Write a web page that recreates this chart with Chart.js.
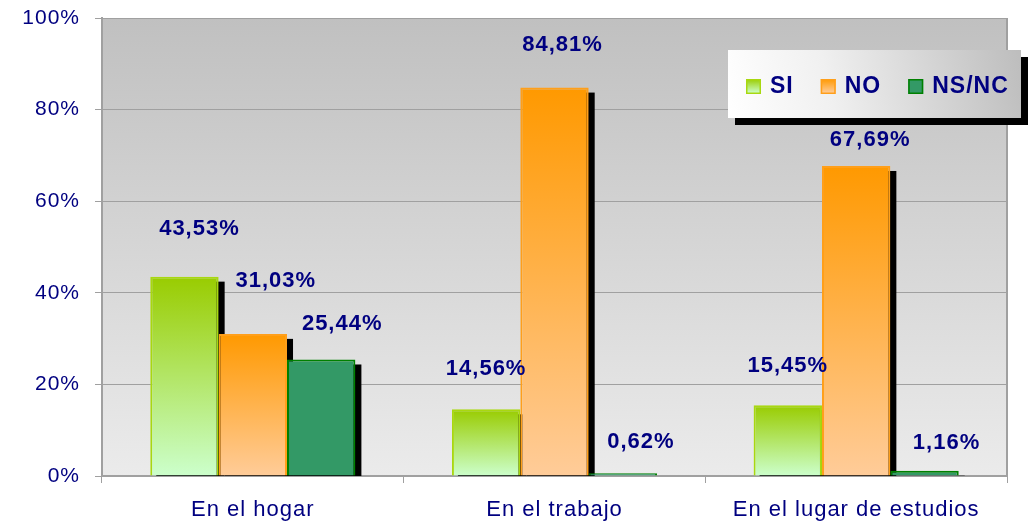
<!DOCTYPE html>
<html>
<head>
<meta charset="utf-8">
<script src="https://cdn.jsdelivr.net/npm/chart.js@4.4.1/dist/chart.umd.min.js"></script>
<style>
html, body { margin: 0; padding: 0; background: #fff; }
</style>
</head>
<body>
<canvas id="chart" width="1028" height="525"></canvas>
<script>
// Datos del gráfico
const categories = ['En el hogar', 'En el trabajo', 'En el lugar de estudios'];
const seriesNames = ['SI', 'NO', 'NS/NC'];
const siValues = [43.53, 14.56, 15.45];
const noValues = [31.03, 84.81, 67.69];
const nsncValues = [25.44, 0.62, 1.16];
const yTicks = [0, 20, 40, 60, 80, 100];

// Desplazamiento de las etiquetas respecto a la barra (px)
const labelDx = [[15, 0, 0], [23, 8, 14], [21, 18, 22]];
const labelDy = [[48, 40, 39], [53, 43, 26], [36, 31, 28]];

const navy = '#000080';
const fontFamily = "'Liberation Sans', Arial, sans-serif";

// Colores: arriba, abajo, borde
const palette = [
    { top: '#99cc00', bottom: '#ccffcc', border: '#a8d810' },
    { top: '#ff9900', bottom: '#ffcc99', border: '#ff9f1a' },
    { top: '#339966', bottom: '#339966', border: '#008000' }
];

const formatPct = (v) => v.toFixed(2).replace('.', ',') + '%';

// Degradado vertical por barra
function barGradient(colors) {
    return function(context) {
        const chart = context.chart;
        const { ctx, chartArea, scales } = chart;
        if (!chartArea || !scales.y || context.type !== 'data') return colors.top;
        const y0 = scales.y.getPixelForValue(0);
        const y1 = scales.y.getPixelForValue(context.raw);
        if (!isFinite(y0) || !isFinite(y1) || y1 >= y0) return colors.top;
        const g = ctx.createLinearGradient(0, y1, 0, y0);
        g.addColorStop(0, colors.top);
        g.addColorStop(1, colors.bottom);
        return g;
    };
}

// Espaciado de letras como en el original
const spacingPlugin = {
    id: 'spacing',
    beforeUpdate(chart) { chart.ctx.letterSpacing = '1px'; },
    beforeDraw(chart) { chart.ctx.letterSpacing = '1px'; }
};

// Fondo del área de trazado y sombras de las barras
const backgroundPlugin = {
    id: 'plotBackground',
    beforeDraw(chart) {
        const { ctx, chartArea: a } = chart;
        ctx.save();
        const g = ctx.createLinearGradient(0, a.top, 0, a.bottom);
        g.addColorStop(0, '#c0c0c0');
        g.addColorStop(1, '#ebebeb');
        ctx.fillStyle = g;
        ctx.fillRect(a.left, a.top, a.right - a.left, a.bottom - a.top);
        ctx.restore();
    },
    beforeDatasetsDraw(chart) {
        const { ctx, chartArea: a } = chart;
        ctx.save();
        ctx.fillStyle = '#000';
        chart.data.datasets.forEach((ds, i) => {
            chart.getDatasetMeta(i).data.forEach((bar) => {
                const top = bar.y + 5;
                if (top >= a.bottom) return;
                ctx.fillRect(bar.x - bar.width / 2 + 6, top, bar.width, a.bottom - top);
            });
        });
        // borde derecho
        ctx.strokeStyle = '#a0a0a0';
        ctx.lineWidth = 2;
        ctx.beginPath();
        ctx.moveTo(a.right, a.top);
        ctx.lineTo(a.right, a.bottom);
        ctx.stroke();
        ctx.restore();
    }
};

// Etiquetas de valores
const valueLabelPlugin = {
    id: 'valueLabels',
    afterDatasetsDraw(chart) {
        const ctx = chart.ctx;
        ctx.save();
        ctx.letterSpacing = '1px';
        ctx.font = 'bold 22px ' + fontFamily;
        ctx.fillStyle = navy;
        ctx.textAlign = 'center';
        ctx.textBaseline = 'middle';
        chart.data.datasets.forEach((ds, i) => {
            chart.getDatasetMeta(i).data.forEach((bar, j) => {
                ctx.fillText(formatPct(ds.data[j]), bar.x + labelDx[i][j], bar.y - labelDy[i][j]);
            });
        });
        ctx.restore();
    }
};

// Leyenda flotante con sombra
const legendPlugin = {
    id: 'floatLegend',
    afterDraw(chart) {
        const ctx = chart.ctx;
        const x = 728, y = 50, w = 293, h = 68;
        ctx.save();
        ctx.fillStyle = '#000';
        ctx.fillRect(x + 7, y + 7, w, h);
        const g = ctx.createLinearGradient(x, y + h, x + w, y);
        g.addColorStop(0, '#ffffff');
        g.addColorStop(0.35, '#f0f0f0');
        g.addColorStop(1, '#bdbdbd');
        ctx.fillStyle = g;
        ctx.fillRect(x, y, w, h);

        ctx.letterSpacing = '1px';
        ctx.font = 'bold 23px ' + fontFamily;
        ctx.textBaseline = 'middle';
        ctx.textAlign = 'left';
        let cx = 746;
        const cy = y + 36;
        chart.data.datasets.forEach((ds, i) => {
            const c = palette[i];
            const mg = ctx.createLinearGradient(0, cy - 7, 0, cy + 7);
            mg.addColorStop(0, c.top);
            mg.addColorStop(1, c.bottom);
            ctx.fillStyle = mg;
            ctx.fillRect(cx, cy - 7, 15, 15);
            ctx.strokeStyle = c.border;
            ctx.lineWidth = 1.5;
            ctx.strokeRect(cx + 0.75, cy - 6.25, 13.5, 13.5);
            ctx.fillStyle = navy;
            ctx.fillText(ds.label, cx + 24, cy + 1);
            cx += 24 + ctx.measureText(ds.label).width + 27;
        });
        ctx.restore();
    }
};

Chart.defaults.font.family = fontFamily;
Chart.defaults.color = navy;

const seriesValues = [siValues, noValues, nsncValues];

new Chart(document.getElementById('chart'), {
    type: 'bar',
    data: {
        labels: categories,
        datasets: seriesNames.map((name, i) => ({
            label: name,
            data: seriesValues[i],
            backgroundColor: barGradient(palette[i]),
            borderColor: palette[i].border,
            borderWidth: 2,
            categoryPercentage: 0.68,
            barPercentage: 1
        }))
    },
    options: {
        responsive: false,
        animation: false,
        layout: { padding: { top: 18, right: 21, bottom: 0, left: 0 } },
        plugins: {
            legend: { display: false },
            tooltip: { enabled: false }
        },
        scales: {
            x: {
                afterFit(scale) {
                    scale.height = 49;
                    scale.paddingLeft = 0;
                    scale.paddingRight = 0;
                },
                grid: {
                    drawOnChartArea: false,
                    color: '#a0a0a0',
                    tickLength: 7
                },
                border: { color: '#a0a0a0', width: 2 },
                ticks: {
                    color: navy,
                    font: { size: 22 },
                    padding: 14,
                    maxRotation: 0
                }
            },
            y: {
                min: yTicks[0],
                max: yTicks[yTicks.length - 1],
                afterFit(scale) {
                    scale.width = 102;
                    scale.paddingTop = 0;
                    scale.paddingBottom = 0;
                },
                afterBuildTicks(scale) {
                    scale.ticks = yTicks.map((v) => ({ value: v }));
                },
                grid: {
                    color: '#a0a0a0',
                    lineWidth: 1,
                    tickLength: 7
                },
                border: { color: '#a0a0a0', width: 2 },
                ticks: {
                    color: navy,
                    font: { size: 21 },
                    padding: 15,
                    callback: (v) => v + '%'
                }
            }
        }
    },
    plugins: [spacingPlugin, backgroundPlugin, valueLabelPlugin, legendPlugin]
});
</script>
</body>
</html>
